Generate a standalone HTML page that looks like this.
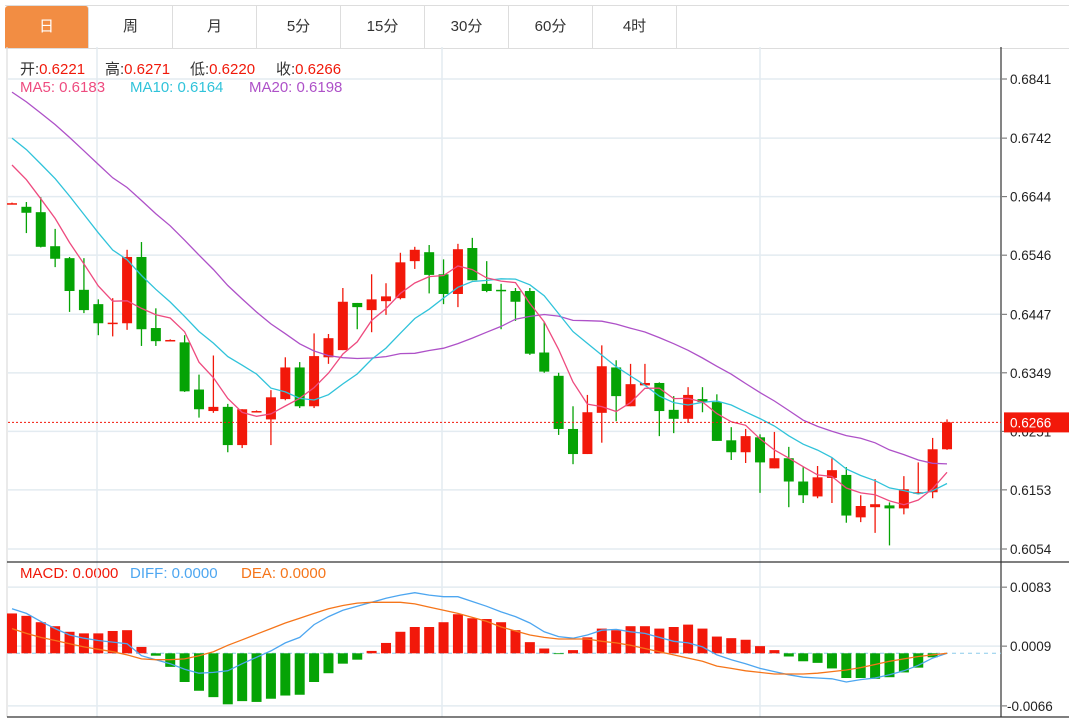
<!DOCTYPE html>
<html><head><meta charset="utf-8">
<style>
body{margin:0;background:#fff;width:1069px;height:725px;overflow:hidden;font-family:"Liberation Sans","Noto Sans CJK SC",sans-serif;}
#tabs{position:absolute;left:5px;top:5px;height:42px;display:flex;border-top:1px solid #ddd;border-bottom:1px solid #ddd;width:1064px;}
.tab{width:83px;border-right:1px solid #ddd;text-align:center;line-height:42px;font-size:15px;color:#333;}
.tab.on{background:#F28D43;color:#fff;border-radius:3px 3px 0 0;}
.info{position:absolute;font-size:15px;white-space:nowrap;}
</style></head><body>
<div id="tabs">
<div class="tab on">日</div>
<div class="tab">周</div>
<div class="tab">月</div>
<div class="tab">5分</div>
<div class="tab">15分</div>
<div class="tab">30分</div>
<div class="tab">60分</div>
<div class="tab">4时</div>
</div>
<div>
<div class="info" style="top:58px;left:20px"><span style="color:#333">开:</span><span style="color:#f0190a">0.6221</span></div>
<div class="info" style="top:58px;left:105px"><span style="color:#333">高:</span><span style="color:#f0190a">0.6271</span></div>
<div class="info" style="top:58px;left:190px"><span style="color:#333">低:</span><span style="color:#f0190a">0.6220</span></div>
<div class="info" style="top:58px;left:276px"><span style="color:#333">收:</span><span style="color:#f0190a">0.6266</span></div>
</div>
<div>
<div class="info" style="top:79px;left:20px;color:#EE4B7F">MA5: 0.6183</div>
<div class="info" style="top:79px;left:130px;color:#30C3DA">MA10: 0.6164</div>
<div class="info" style="top:79px;left:249px;color:#AE51C8">MA20: 0.6198</div>
</div>
<div>
<div class="info" style="top:565px;left:20px;color:#f0190a">MACD: 0.0000</div>
<div class="info" style="top:565px;left:130px;color:#4DA6F0">DIFF: 0.0000</div>
<div class="info" style="top:565px;left:241px;color:#F5751A">DEA: 0.0000</div>
</div>
<svg id="chart" width="1069" height="725" style="position:absolute;left:0;top:0;pointer-events:none"></svg>
<script>
const opens=[0.6632,0.6627,0.6618,0.6561,0.6541,0.6488,0.6464,0.6432,0.6432,0.6543,0.6424,0.6403,0.6400,0.6321,0.6285,0.6292,0.6228,0.6284,0.6271,0.6305,0.6358,0.6293,0.6375,0.6387,0.6466,0.6454,0.6469,0.6474,0.6536,0.6551,0.6514,0.6481,0.6558,0.6498,0.6488,0.6486,0.6486,0.6383,0.6344,0.6255,0.6213,0.6282,0.6358,0.6293,0.6328,0.6332,0.6287,0.6272,0.6305,0.6300,0.6236,0.6216,0.6241,0.6189,0.6206,0.6167,0.6142,0.6173,0.6178,0.6107,0.6124,0.6127,0.6122,0.6148,0.6149,0.6221];
const highs=[0.6634,0.6635,0.6643,0.6590,0.6543,0.6541,0.6472,0.6474,0.6555,0.6568,0.6457,0.6405,0.6412,0.6346,0.6378,0.6297,0.6288,0.6286,0.6320,0.6375,0.6367,0.6415,0.6414,0.6491,0.6466,0.6514,0.6499,0.6550,0.6560,0.6563,0.6539,0.6565,0.6575,0.6536,0.6498,0.6491,0.6491,0.6434,0.6349,0.6293,0.6312,0.6395,0.6370,0.6364,0.6364,0.6333,0.6310,0.6325,0.6325,0.6313,0.6258,0.6255,0.6246,0.6250,0.6225,0.6191,0.6193,0.6206,0.6191,0.6144,0.6171,0.6132,0.6176,0.6199,0.6240,0.6271];
const lows=[0.6632,0.6583,0.6559,0.6526,0.6451,0.6449,0.6412,0.6410,0.6421,0.6394,0.6394,0.6402,0.6317,0.6274,0.6282,0.6216,0.6223,0.6284,0.6228,0.6303,0.6290,0.6290,0.6364,0.6387,0.6422,0.6417,0.6446,0.6472,0.6523,0.6482,0.6464,0.6459,0.6504,0.6484,0.6422,0.6436,0.6379,0.6349,0.6245,0.6196,0.6213,0.6232,0.6268,0.6293,0.6328,0.6243,0.6248,0.6265,0.6283,0.6235,0.6203,0.6198,0.6148,0.6189,0.6124,0.6131,0.6139,0.6131,0.6098,0.6099,0.6081,0.6060,0.6112,0.6148,0.6139,0.6220];
const closes=[0.6633,0.6617,0.6560,0.6540,0.6486,0.6454,0.6432,0.6433,0.6543,0.6422,0.6402,0.6404,0.6318,0.6288,0.6292,0.6228,0.6288,0.6285,0.6308,0.6358,0.6293,0.6377,0.6407,0.6468,0.6459,0.6472,0.6477,0.6534,0.6555,0.6513,0.6481,0.6556,0.6504,0.6486,0.6486,0.6468,0.6381,0.6351,0.6255,0.6213,0.6283,0.6360,0.6310,0.6330,0.6332,0.6285,0.6272,0.6312,0.6300,0.6235,0.6216,0.6243,0.6199,0.6206,0.6167,0.6144,0.6174,0.6186,0.6110,0.6126,0.6129,0.6122,0.6154,0.6149,0.6221,0.6266];
const priorCloses=[0.6945,0.6935,0.6925,0.6915,0.6900,0.6890,0.6880,0.6870,0.6855,0.6845,0.6810,0.6800,0.6787,0.6775,0.6763,0.6740,0.6720,0.6705,0.6687];
const macdHist=[0.0050,0.0047,0.0039,0.0034,0.0027,0.0025,0.0025,0.0028,0.0029,0.0008,-0.0003,-0.0017,-0.0036,-0.0047,-0.0055,-0.0064,-0.0060,-0.0061,-0.0057,-0.0053,-0.0052,-0.0036,-0.0025,-0.0013,-0.0008,0.0003,0.0013,0.0027,0.0033,0.0033,0.0039,0.0049,0.0044,0.0043,0.0039,0.0029,0.0014,0.0006,-0.0001,0.0004,0.0020,0.0031,0.0029,0.0034,0.0034,0.0031,0.0033,0.0036,0.0031,0.0021,0.0019,0.0017,0.0009,0.0004,-0.0004,-0.0010,-0.0012,-0.0019,-0.0031,-0.0031,-0.0032,-0.0030,-0.0024,-0.0018,-0.0005,0.0000];
const diffVals=[0.0056,0.0050,0.0040,0.0031,0.0023,0.0019,0.0016,0.0014,0.0012,-0.0003,-0.0008,-0.0013,-0.0020,-0.0025,-0.0024,-0.0022,-0.0013,-0.0005,0.0003,0.0013,0.0020,0.0036,0.0046,0.0054,0.0059,0.0064,0.0069,0.0073,0.0076,0.0073,0.0071,0.0071,0.0065,0.0059,0.0052,0.0046,0.0038,0.0027,0.0021,0.0019,0.0023,0.0029,0.0030,0.0027,0.0025,0.0020,0.0015,0.0013,0.0008,-0.0002,-0.0008,-0.0013,-0.0019,-0.0023,-0.0027,-0.0030,-0.0031,-0.0032,-0.0036,-0.0033,-0.0031,-0.0027,-0.0022,-0.0015,-0.0006,0.0000];
const deaVals=[0.0031,0.0025,0.0020,0.0016,0.0012,0.0008,0.0005,0.0002,-0.0002,-0.0007,-0.0008,-0.0008,-0.0007,-0.0003,0.0002,0.0010,0.0017,0.0024,0.0031,0.0038,0.0044,0.0050,0.0056,0.0060,0.0063,0.0064,0.0064,0.0064,0.0062,0.0058,0.0054,0.0050,0.0045,0.0040,0.0033,0.0028,0.0023,0.0020,0.0018,0.0018,0.0018,0.0015,0.0013,0.0010,0.0006,0.0002,-0.0002,-0.0006,-0.0010,-0.0016,-0.0019,-0.0022,-0.0024,-0.0026,-0.0026,-0.0026,-0.0025,-0.0023,-0.0021,-0.0018,-0.0014,-0.0010,-0.0007,-0.0004,-0.0002,0.0000];
const priceTicks=["0.6841","0.6742","0.6644","0.6546","0.6447","0.6349","0.6251","0.6153","0.6054"];
const macdTicks=["0.0083","0.0009","-0.0066"];
const lastPrice=0.6266;

const NS="http://www.w3.org/2000/svg";
const svg=document.getElementById('chart');
function el(tag,attrs,parent){const e=document.createElementNS(NS,tag);for(const k in attrs)e.setAttribute(k,attrs[k]);(parent||svg).appendChild(e);return e;}
const xOf=i=>12+i*14.385;
const yP=p=>79+(0.6841-p)*5972;
const yM=v=>653.3-v*7970;
const RED="#F2180A",GREEN="#05A305";

priceTicks.forEach(t=>{const y=yP(+t);
 const g=el('line',{x1:8,x2:1001,y1:y,y2:y,stroke:'#e3ebf1','stroke-width':1.5});
 
 const tk=el('line',{x1:1002,x2:1007,y1:y,y2:y,stroke:'#666'});
 
 const tx=el('text',{x:1010,y:y+5,'font-size':13.5,fill:'#222','font-family':'Liberation Sans, sans-serif'});tx.textContent=t;
 });
macdTicks.forEach(t=>{const y=yM(+t);
 const g=el('line',{x1:8,x2:1001,y1:y,y2:y,stroke:'#e3ebf1','stroke-width':1.5});
 
 const tk=el('line',{x1:1002,x2:1007,y1:y,y2:y,stroke:'#666'});
 
 const tx=el('text',{x:t[0]=='-'?1007:1010,y:y+5,'font-size':13.5,fill:'#222','font-family':'Liberation Sans, sans-serif'});tx.textContent=t;
 });
[97,442,760].forEach(x=>{const v=el('line',{x1:x,x2:x,y1:47,y2:717,stroke:'#e3ebf1','stroke-width':1.5});
 });
[[7,47,7,717],[1001,47,1001,717],[7,562,1069,562],[7,717,1069,717]].forEach(a=>{const f=el('line',{x1:a[0],y1:a[1],x2:a[2],y2:a[3],stroke:a[0]==7&&a[2]==7?'#ddd':'#333','stroke-width':1.2});
 });

opens.forEach((o,i)=>{const c=closes[i],up=c>=o,col=up?RED:GREEN,x=xOf(i);
 const w=el('line',{x1:x,x2:x,y1:yP(highs[i]),y2:yP(lows[i]),stroke:col,'stroke-width':1.3});
 
 const top=yP(Math.max(o,c)),h=Math.max(1.5,Math.abs(yP(o)-yP(c)));
 const b=el('rect',{x:x-5,y:top,width:10,height:h,fill:col});
 });

const all=priorCloses.concat(closes);
function ma(n){return closes.map((_,i)=>{const j=i+priorCloses.length;let s=0;for(let k=j-n+1;k<=j;k++)s+=all[k];return s/n;});}
[[20,'#AE51C8','ma20-line'],[10,'#30C3DA','ma10-line'],[5,'#EE4B7F','ma5-line']].forEach(([n,col,name])=>{
 const pts=ma(n).map((v,i)=>xOf(i).toFixed(1)+','+yP(v).toFixed(1)).join(' ');
 const l=el('polyline',{points:pts,fill:'none',stroke:col,'stroke-width':1.3});
 });

const lp=el('line',{x1:8,x2:1001,y1:yP(lastPrice),y2:yP(lastPrice),stroke:RED,'stroke-dasharray':'2,2','stroke-width':1});

const lb=el('rect',{x:1004,y:yP(lastPrice)-10,width:65,height:20,fill:RED});

const lt=el('text',{x:1010,y:yP(lastPrice)+5,'font-size':13.5,fill:'#fff','font-family':'Liberation Sans, sans-serif'});lt.textContent=lastPrice.toFixed(4);


const zl=el('line',{x1:8,x2:1001,y1:yM(0),y2:yM(0),stroke:'#8ccbea','stroke-dasharray':'4,4','stroke-width':1});

macdHist.forEach((v,i)=>{if(v===0)return;const y0=yM(0),y1=yM(v);
 const r=el('rect',{x:xOf(i)-5,y:Math.min(y0,y1),width:10,height:Math.abs(y1-y0),fill:v>0?RED:GREEN});
 });
[[diffVals,'#4DA6F0','diff-line'],[deaVals,'#F5751A','dea-line']].forEach(([arr,col,name])=>{
 const pts=arr.map((v,i)=>xOf(i).toFixed(1)+','+yM(v).toFixed(1)).join(' ');
 const l=el('polyline',{points:pts,fill:'none',stroke:col,'stroke-width':1.3});
 });
</script>
</body></html>
